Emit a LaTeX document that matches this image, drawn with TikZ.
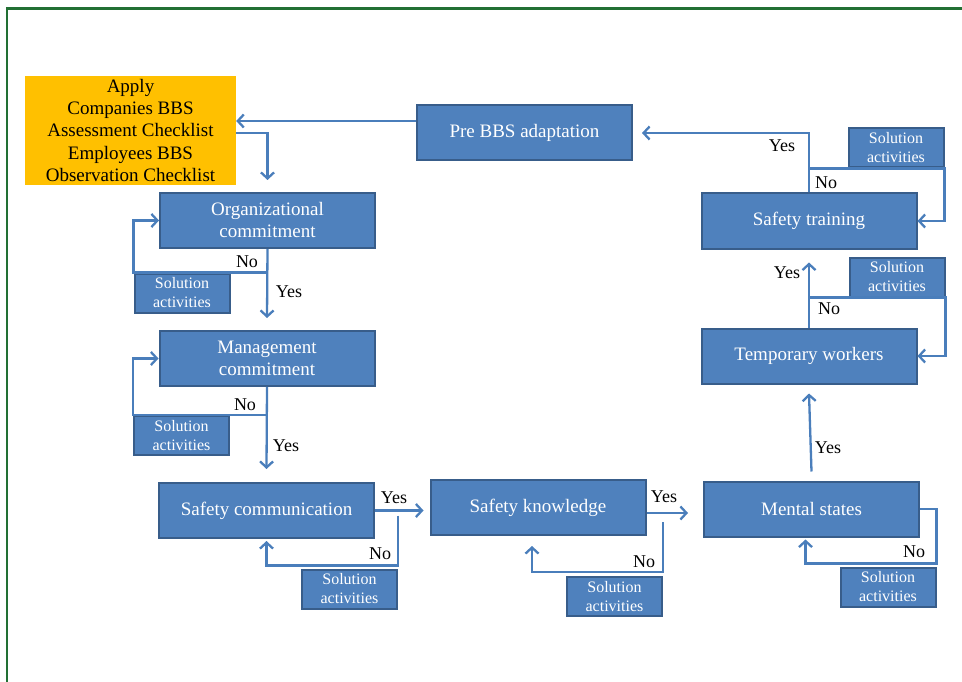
\documentclass[tikz,border=0pt]{standalone}
\usepackage{fontspec}
\setmainfont{Liberation Serif}
\usetikzlibrary{arrows.meta}
\definecolor{boxblue}{RGB}{79,129,189}
\definecolor{boxedge}{RGB}{56,93,138}
\definecolor{linkblue}{RGB}{74,126,187}
\definecolor{applyorange}{RGB}{255,192,0}
\definecolor{framegreen}{RGB}{34,112,52}

\begin{document}
\begin{tikzpicture}[x=1pt, y=-1pt,
        stage/.style={draw=boxedge, fill=boxblue, line width=2pt, text=white, align=center,
            inner sep=0pt, minimum width=215pt, minimum height=55pt, font=\fontsize{19}{22}\selectfont},
        solution/.style={draw=boxedge, fill=boxblue, line width=2pt, text=white, align=center,
            inner sep=0pt, minimum width=95pt, minimum height=39pt, font=\fontsize{16}{19}\selectfont},
        flow/.style={draw=linkblue, line width=2.3pt, -{Straight Barb[length=6pt,width=13pt]}},
        answer/.style={inner sep=0pt, font=\fontsize{18}{18}\selectfont}]
                \useasboundingbox (0,0) rectangle (962,682);
                \draw[framegreen, line width=2.5pt] (7,682) -- (7,8.5) -- (962,8.5);

                % boxes
                \node[fill=applyorange, inner sep=0pt, minimum width=211pt, minimum height=109pt, align=center,
                    font=\fontsize{19}{22.3}\selectfont] (apply) at (130.5,130.5)
                    {Apply\\Companies BBS\\Assessment Checklist\\Employees BBS\\Observation Checklist};
                \node[stage] (pre) at (524.5,133) {Pre BBS adaptation};
                \node[stage] (org) at (267.5,220.5) {Organizational\\commitment};
                \node[stage] (mgmt) at (267,358.5) {Management\\commitment};
                \node[stage] (comm) at (266.5,510.5) {Safety communication};
                \node[stage] (know) at (538,507.5) {Safety knowledge};
                \node[stage] (mental) at (811.5,509) {Mental states};
                \node[stage] (temp) at (809,356) {Temporary workers};
                \node[stage] (train) at (809,221) {Safety training};

                \node[solution] (orgsol) at (182,293) {Solution\\activities};
                \node[solution] (mgmtsol) at (181.5,435.5) {Solution\\activities};
                \node[solution] (commsol) at (349.5,589) {Solution\\activities};
                \node[solution] (knowsol) at (614.5,596.5) {Solution\\activities};
                \node[solution] (mentalsol) at (888,587) {Solution\\activities};
                \node[solution] (tempsol) at (897,277) {Solution\\activities};
                \node[solution] (trainsol) at (896,148) {Solution\\activities};

                % yes / no arrows
                \draw[flow] ([yshift=12pt]pre.west) -- ([yshift=12pt]pre.west -| apply.east);
                \draw[flow] ([yshift=-2.5pt]apply.east) -| ([yshift=12pt]org.north);
                \draw[flow] (org.south) -- ([yshift=12pt]mgmt.north);
                \draw[flow] (org.south |- orgsol.north) -| (orgsol.north west |- org.west) -- (org.west);
                \draw[flow] (mgmt.south) -- ([yshift=13pt]comm.north);
                \draw[flow] (mgmt.south |- mgmtsol.north) -| (mgmtsol.north west |- mgmt.west) -- (mgmt.west);
                \draw[flow, shorten >=6pt] (comm.east) -- (comm.east -| know.west);
                \draw[flow] ([yshift=-5pt]comm.east -| commsol.east) -- ([yshift=3pt]commsol.north east)
                    -| ([yshift=-2pt]comm.south);
                \draw[flow, shorten >=15pt] ([yshift=-5.5pt]know.east) -- ([yshift=-5.5pt]know.east -| mental.west);
                \draw[flow] ([yshift=-14.5pt]know.east -| knowsol.east) -- ([yshift=4pt]knowsol.north east)
                    -| ([xshift=-6pt,yshift=-10pt]know.south);
                \draw[flow] ([yshift=9pt]mental.north) -- ([yshift=-9pt]temp.south);
                \draw[flow] (mental.east) -| ([yshift=3pt]mentalsol.north east)
                    -| ([xshift=-6pt,yshift=-2pt]mental.south);
                \draw[flow] (temp.north) -- ([yshift=-13pt]train.south);
                \draw[flow] (temp.north |- tempsol.south) -- (tempsol.south east) |- (temp.east);
                \draw[flow] (train.north) |- ([xshift=9pt]pre.east);
                \draw[flow] (train.north |- trainsol.south) -- (trainsol.south east) |- (train.east);

                % labels
                \node[answer] (orgno) at (247,262) {No};
                \node[answer] (orgyes) at (289,292) {Yes};
                \node[answer] (mgmtno) at (245,405) {No};
                \node[answer] (mgmtyes) at (286,446) {Yes};
                \node[answer] (commyes) at (394,498) {Yes};
                \node[answer] (commno) at (380,554) {No};
                \node[answer] (knowyes) at (664,497) {Yes};
                \node[answer] (knowno) at (644,562) {No};
                \node[answer] (mentalno) at (914,552) {No};
                \node[answer] (mentalyes) at (828,448) {Yes};
                \node[answer] (tempno) at (829,309) {No};
                \node[answer] (tempyes) at (787,273) {Yes};
                \node[answer] (trainno) at (826,183) {No};
                \node[answer] (trainyes) at (782,146) {Yes};
\end{tikzpicture}
\end{document}
